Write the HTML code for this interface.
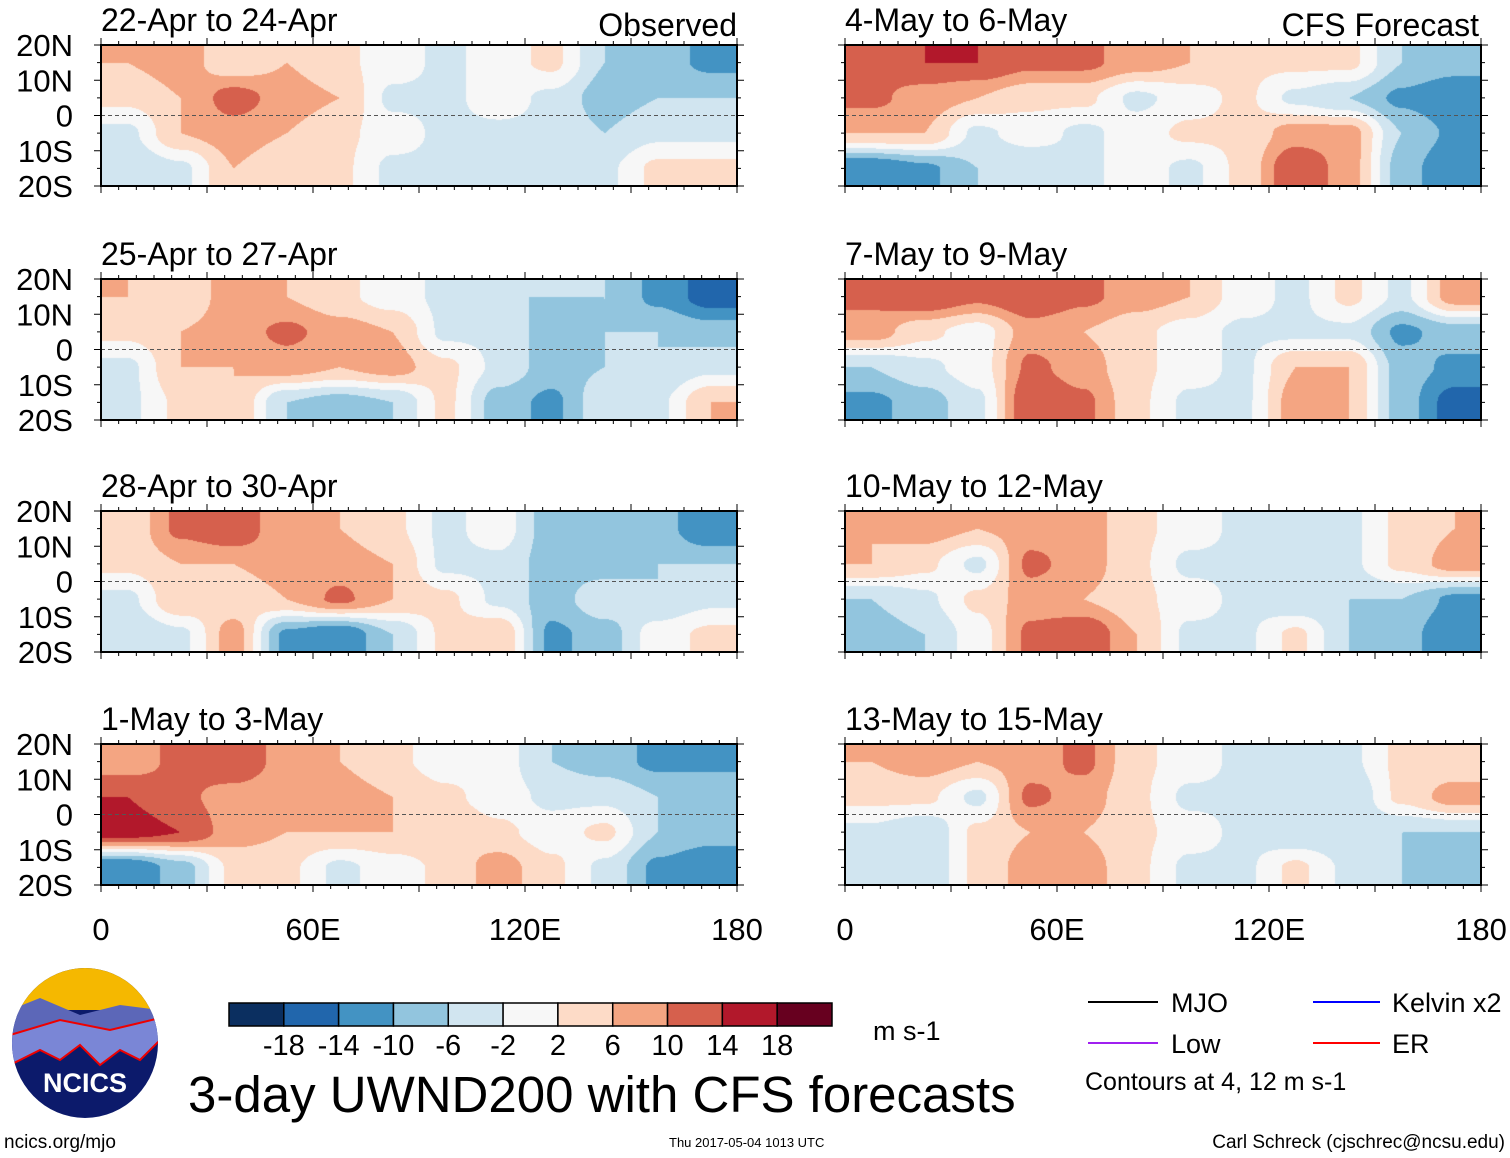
<!DOCTYPE html>
<html><head><meta charset="utf-8"><style>
body{margin:0;background:#fff;width:1510px;height:1158px;overflow:hidden;font-family:"Liberation Sans",sans-serif;position:relative}
svg{position:absolute;left:0;top:0}
canvas{position:absolute}
</style></head><body>
<div id="maps"></div>
<svg width="1510" height="1158" id="fig"></svg>
<script>
const titles=["22-Apr to 24-Apr","25-Apr to 27-Apr","28-Apr to 30-Apr","1-May to 3-May","4-May to 6-May","7-May to 9-May","10-May to 12-May","13-May to 15-May"];
const latLabels=["20N","10N","0","10S","20S"];
const lonLabels=["0","60E","120E","180"];
const levels=[-18,-14,-10,-6,-2,2,6,10,14,18];
const levelColors=["#0b2f60","#2166ac","#4393c3","#92c5de","#d1e5f0","#f7f7f7","#fddbc7","#f4a582","#d6604d","#b2182b","#67001f"];
const p0=[[6,8,3,6,3,0,-3,0,3,-6,-8,-11],[3,6,12,8,6,-3,-3,0,-3,-8,-6,-6],[-3,6,8,6,3,0,-3,-3,-3,-6,-3,-3],[-6,-3,6,3,3,-3,-3,-6,-3,-3,3,3]];
const p1=[[6,3,8,6,3,0,-3,-6,-6,-6,-11,-16],[3,6,8,11,8,6,-3,-3,-8,-6,-6,-8],[-3,6,6,8,6,8,3,-3,-8,-6,-6,-3],[-3,3,6,-6,-8,-6,3,-8,-11,-3,-3,6]];
const p2=[[3,11,14,6,6,3,-3,0,-8,-8,-8,-14],[3,6,6,8,8,6,-3,-3,-8,-8,-6,-6],[-3,6,3,6,11,6,3,-3,-8,-3,-6,-3],[-6,-3,8,-11,-14,-6,3,6,-11,-8,0,3]];
const p3=[[8,11,14,8,6,3,0,0,-6,-8,-11,-11],[14,11,8,6,8,6,3,0,-3,-3,-6,-6],[16,14,8,6,6,6,6,3,0,3,-6,-8],[-14,-8,3,3,-3,0,3,8,3,-3,-11,-14]];
const p4=[[11,14,14,11,11,8,6,3,3,3,-6,-8],[11,8,6,3,3,-3,0,3,-3,-6,-11,-14],[6,6,-3,0,-3,0,3,3,8,8,-6,-11],[-14,-11,-6,-6,-3,0,-3,3,14,8,-8,-14]];
const p5=[[11,14,11,14,11,8,6,0,-3,3,-3,8],[8,3,0,8,6,3,0,-3,-3,-3,-11,-8],[-6,-3,0,11,8,3,0,-3,6,6,-8,-11],[-11,-8,-3,14,11,3,-3,-3,8,6,-8,-16]];
const p6=[[6,8,6,8,8,3,0,-3,-3,-3,3,6],[6,3,-3,11,8,3,-3,-3,-3,-3,3,8],[-6,-3,3,8,6,3,0,-3,-6,-6,-6,-11],[-8,-6,0,11,14,6,-3,-3,3,-6,-8,-14]];
const p7=[[6,8,6,8,11,3,0,-3,-3,-3,3,3],[3,3,-3,11,8,3,-3,-3,-6,-6,3,8],[-3,-6,3,6,6,3,0,-3,-6,-6,-6,-6],[-6,-6,3,8,8,3,-3,-3,3,-3,-6,-8]];
const panelData=[p0,p1,p2,p3,p4,p5,p6,p7];

const NS="http://www.w3.org/2000/svg";
const fig=document.getElementById('fig');
const maps=document.getElementById('maps');
function mk(t,a,p){const e=document.createElementNS(NS,t);for(const k in a)e.setAttribute(k,a[k]);(p||fig).appendChild(e);return e;}
function colIdx(v){let i=0;while(i<levels.length&&v>=levels[i])i++;return i;}
const rgb=levelColors.map(h=>[parseInt(h.substr(1,2),16),parseInt(h.substr(3,2),16),parseInt(h.substr(5,2),16)]);
const colX=[101,845], rowY=[45,279,511,744], PW=636, PH=141;
function xS(lon,x0){return x0+lon/180*PW;}
function yS(lat,y0){return y0+(20-lat)/40*PH;}
function sm(t){return t*t*(3-2*t);}

panelData.forEach((d,pi)=>{
  const x0=colX[pi<4?0:1], y0=rowY[pi%4];
  const nR=d.length,nC=d[0].length;
  const cv=document.createElement('canvas');
  cv.width=PW;cv.height=PH;cv.style.left=x0+'px';cv.style.top=y0+'px';
  
  
  maps.appendChild(cv);
  const ctx=cv.getContext('2d');const img=ctx.createImageData(PW,PH);
  for(let py=0;py<PH;py++){
    let v=Math.min(Math.max((py+0.41)/PH*nR-0.5,0),nR-1);const r0=Math.floor(v),r1=Math.min(r0+1,nR-1),fv=sm(v-r0);
    for(let px=0;px<PW;px++){
      let u=Math.min(Math.max((px+0.37)/PW*nC-0.5,0),nC-1);const c0=Math.floor(u),c1=Math.min(c0+1,nC-1),fu=sm(u-c0);
      const a=d[r0][c0]*(1-fu)+d[r0][c1]*fu, b=d[r1][c0]*(1-fu)+d[r1][c1]*fu;
      const val=Math.round((a*(1-fv)+b*fv)*1e6)/1e6;const c=rgb[colIdx(val)];const k=(py*PW+px)*4;
      img.data[k]=c[0];img.data[k+1]=c[1];img.data[k+2]=c[2];img.data[k+3]=255;
    }
  }
  ctx.putImageData(img,0,0);
  const g=mk('g',{});
  
  
  mk('line',{x1:x0,x2:x0+PW,y1:yS(0,y0),y2:yS(0,y0),stroke:'#555','stroke-dasharray':'4,3','stroke-width':1},g);
  const fr=mk('rect',{x:x0,y:y0,width:PW,height:PH,fill:'none',stroke:'#000','stroke-width':2},g);
  
  
  for(let lon=0;lon<=180;lon+=5){const x=xS(lon,x0),L=lon%30==0?7:4;
    mk('line',{x1:x,x2:x,y1:y0,y2:y0-L,stroke:'#000','stroke-width':1},g);
    mk('line',{x1:x,x2:x,y1:y0+PH,y2:y0+PH+L,stroke:'#000','stroke-width':1},g);}
  for(let lat=-20;lat<=20;lat+=5){const y=yS(lat,y0),L=lat%10==0?7:4;
    mk('line',{x1:x0,x2:x0-L,y1:y,y2:y,stroke:'#000'},g);
    mk('line',{x1:x0+PW,x2:x0+PW+L,y1:y,y2:y,stroke:'#000'},g);}
  const t=mk('text',{x:x0,y:y0-14,'font-size':32,fill:'#000'},g);t.textContent=titles[pi];
  
  if(pi<4){latLabels.forEach((l,i)=>{const tt=mk('text',{x:73,y:yS(20-i*10,y0)+11,'font-size':31,'text-anchor':'end'},g);tt.textContent=l;
    });}
});
const o=mk('text',{x:737,y:36,'font-size':32,'text-anchor':'end'});o.textContent="Observed";

const f=mk('text',{x:1479,y:36,'font-size':32,'text-anchor':'end'});f.textContent="CFS Forecast";

colX.forEach(x0=>lonLabels.forEach((l,i)=>{const t=mk('text',{x:xS(i*60,x0),y:940,'font-size':31,'text-anchor':'middle'});t.textContent=l;
  }));
const cbX=229,cbW=603/11;
levelColors.forEach((c,i)=>{const r=mk('rect',{x:cbX+i*cbW,y:1003,width:cbW,height:23,fill:c,stroke:'#000','stroke-width':1.5});
  });
levels.forEach((v,i)=>{const t=mk('text',{x:cbX+(i+1)*cbW,y:1055,'font-size':29,'text-anchor':'middle'});t.textContent=v;
  });
</script>
<svg width="1510" height="1158" style="pointer-events:none">
<g>
<clipPath id="lc"><ellipse cx="85" cy="1043" rx="73" ry="75"/></clipPath>
<g clip-path="url(#lc)">
<rect x="10" y="965" width="150" height="160" fill="#0c1a6b"/>
<rect x="10" y="965" width="150" height="45" fill="#f5b800"/>
<path d="M10 1010 L40 998 L80 1015 L120 1005 L160 1010 L160 1030 L10 1035Z" fill="#5c67b8"/>
<path d="M10 1035 L60 1020 L110 1030 L160 1018 L160 1040 L140 1060 L120 1050 L100 1065 L80 1045 L60 1060 L40 1050 L10 1065Z" fill="#7a86d6" stroke="#e00" stroke-width="2"/>
</g>
<text x="85" y="1092" font-size="27" font-weight="bold" fill="#fff" text-anchor="middle">NCICS</text>
</g>
<text x="873" y="1040" font-size="27">m s-1</text>
<text x="188" y="1112" font-size="51">3-day UWND200 with CFS forecasts</text>
<text x="4" y="1148" font-size="19">ncics.org/mjo</text>
<text x="669" y="1147" font-size="13">Thu 2017-05-04 1013 UTC</text>
<text x="1505" y="1148" font-size="19" text-anchor="end">Carl Schreck (cjschrec@ncsu.edu)</text>
<g>
<line x1="1088" x2="1158" y1="1002" y2="1002" stroke="#000" stroke-width="2"/><text x="1171" y="1012" font-size="27">MJO</text>
<line x1="1313" x2="1380" y1="1002" y2="1002" stroke="#00f" stroke-width="2"/><text x="1392" y="1012" font-size="27">Kelvin x2</text>
<line x1="1088" x2="1158" y1="1043" y2="1043" stroke="#a020f0" stroke-width="2"/><text x="1171" y="1053" font-size="27">Low</text>
<line x1="1313" x2="1380" y1="1043" y2="1043" stroke="#f00" stroke-width="2"/><text x="1392" y="1053" font-size="27">ER</text>
<text x="1085" y="1090" font-size="25">Contours at 4, 12 m s-1</text>
</g>
</svg>
</body></html>
